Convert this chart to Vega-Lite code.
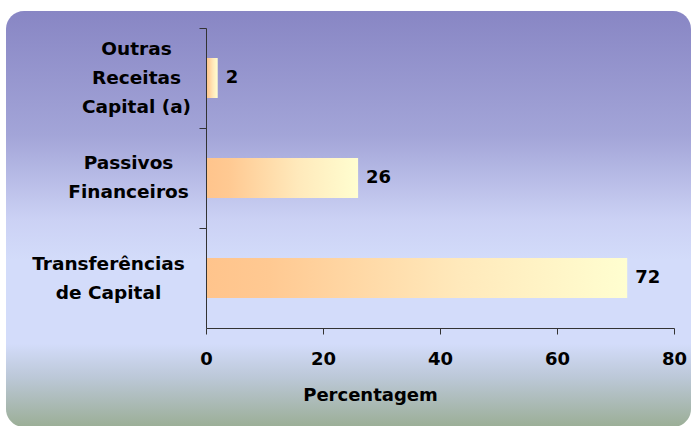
{
  "$schema": "https://vega.github.io/schema/vega-lite/v6.json",
  "width": 468,
  "height": 300,
  "autosize": {"type": "none"},
  "padding": {"left": 206, "top": 28, "right": 18, "bottom": 98},
  "background": "white",
  "config": {
    "view": {"stroke": null},
    "font": "DejaVu Sans"
  },
  "data": {
    "values": [
      {"cat": "Outras Receitas Capital (a)", "value": 2},
      {"cat": "Passivos Financeiros", "value": 26},
      {"cat": "Transferências de Capital", "value": 72}
    ]
  },
  "layer": [
    {
      "data": {"values": [{}]},
      "mark": {
        "type": "rect",
        "clip": false,
        "cornerRadius": 18,
        "fill": {
          "gradient": "linear",
          "x1": 0, "y1": 0, "x2": 0, "y2": 1,
          "stops": [
            {"offset": 0, "color": "#8886C4"},
            {"offset": 0.3, "color": "#A3A5D8"},
            {"offset": 0.5, "color": "#CBD1F4"},
            {"offset": 0.6, "color": "#D3DCFA"},
            {"offset": 0.8, "color": "#D3DCFA"},
            {"offset": 0.88, "color": "#BCC8D8"},
            {"offset": 1, "color": "#9BAE96"}
          ]
        }
      },
      "encoding": {
        "x": {"value": -200},
        "x2": {"value": 485},
        "y": {"value": -17},
        "y2": {"value": 399}
      }
    },
    {
      "mark": {
        "type": "bar",
        "fill": {
          "gradient": "linear",
          "x1": 0, "y1": 0, "x2": 1, "y2": 0,
          "stops": [
            {"offset": 0, "color": "#FFC48C"},
            {"offset": 0.15, "color": "#FFC992"},
            {"offset": 0.6, "color": "#FFE9BB"},
            {"offset": 1, "color": "#FFFED0"}
          ]
        }
      },
      "encoding": {
        "y": {
          "field": "cat",
          "type": "nominal",
          "sort": null,
          "scale": {"paddingInner": 0.6, "paddingOuter": 0.3},
          "axis": {
            "zindex": 1,
            "title": null,
            "domainColor": "#333333",
            "tickColor": "#333333",
            "tickSize": 7,
            "tickOffset": -50,
            "labelFont": "DejaVu Sans",
            "labelFontSize": 18.5,
            "labelFontWeight": "bold",
            "labelColor": "black",
            "labelAlign": "center",
            "labelBaseline": "middle",
            "labelLineHeight": 29,
            "labelLimit": 300,
            "labelExpr": "datum.value == 'Outras Receitas Capital (a)' ? ['Outras', 'Receitas', 'Capital (a)'] : datum.value == 'Passivos Financeiros' ? ['Passivos', 'Financeiros'] : ['Transferências', 'de Capital']",
            "labelOffset": {
              "condition": [
                {"test": "datum.value == 'Outras Receitas Capital (a)'", "value": 20},
                {"test": "datum.value == 'Passivos Financeiros'", "value": 34}
              ],
              "value": 35
            },
            "labelPadding": {
              "condition": [
                {"test": "datum.value == 'Outras Receitas Capital (a)'", "value": 63},
                {"test": "datum.value == 'Passivos Financeiros'", "value": 71}
              ],
              "value": 91
            }
          }
        },
        "x": {
          "field": "value",
          "type": "quantitative",
          "scale": {"domain": [0, 80], "nice": false},
          "axis": {
            "zindex": 1,
            "values": [0, 20, 40, 60, 80],
            "grid": false,
            "title": "Percentagem",
            "titleFont": "DejaVu Sans",
            "titleFontSize": 18,
            "titleFontWeight": "bold",
            "titleColor": "black",
            "titleAnchor": null,
            "titleX": 164,
            "titleY": 72,
            "titleAlign": "center",
            "titleBaseline": "alphabetic",
            "domainColor": "#333333",
            "tickColor": "#333333",
            "tickSize": 6,
            "labelFont": "DejaVu Sans",
            "labelFontSize": 18,
            "labelFontWeight": "bold",
            "labelColor": "black",
            "labelPadding": 16,
            "labelFlush": false
          }
        }
      }
    },
    {
      "mark": {
        "type": "text",
        "align": "left",
        "baseline": "middle",
        "dx": 8,
        "font": "DejaVu Sans",
        "fontSize": 18,
        "fontWeight": "bold",
        "color": "black"
      },
      "encoding": {
        "y": {"field": "cat", "type": "nominal", "sort": null},
        "x": {"field": "value", "type": "quantitative"},
        "text": {"field": "value", "type": "quantitative"}
      }
    }
  ]
}
